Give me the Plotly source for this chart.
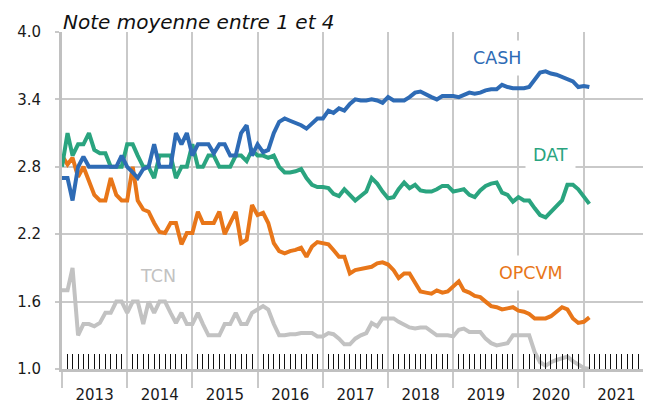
import plotly.graph_objects as go
import pandas as pd

# Monthly observations, Jan 2013 -> Feb 2021
dates = pd.date_range("2013-01-01", periods=98, freq="MS").strftime("%Y-%m-%d").tolist()

cash = [2.70, 2.70, 2.50, 2.80, 2.89, 2.80, 2.80, 2.80, 2.80, 2.80, 2.80, 2.90,
        2.80, 2.75, 2.70, 2.78, 2.80, 3.00, 2.80, 2.80, 2.80, 3.10, 3.00, 3.10,
        2.90, 3.00, 3.00, 3.00, 2.92, 3.00, 3.00, 2.90, 2.90, 3.10, 3.17, 2.90,
        3.00, 2.93, 2.95, 3.10, 3.20, 3.23, 3.21, 3.19, 3.17, 3.14, 3.18, 3.23,
        3.23, 3.30, 3.28, 3.32, 3.30, 3.36, 3.40, 3.39, 3.39, 3.40, 3.39, 3.37,
        3.42, 3.39, 3.39, 3.39, 3.42, 3.46, 3.47, 3.44, 3.42, 3.40, 3.43, 3.43,
        3.43, 3.42, 3.44, 3.46, 3.45, 3.46, 3.48, 3.49, 3.49, 3.53, 3.51, 3.50,
        3.50, 3.50, 3.51, 3.58, 3.64, 3.65, 3.63, 3.62, 3.60, 3.58, 3.56, 3.51,
        3.52, 3.51]

dat = [2.80, 3.10, 2.90, 3.00, 3.00, 3.10, 2.95, 2.92, 2.92, 2.80, 2.80, 2.80,
       3.00, 3.00, 2.90, 2.80, 2.80, 2.70, 2.90, 2.90, 2.90, 2.70, 2.80, 2.80,
       3.00, 2.80, 2.80, 2.90, 2.90, 2.80, 2.80, 2.80, 2.90, 2.90, 2.85, 2.95,
       2.90, 2.90, 2.88, 2.90, 2.80, 2.75, 2.75, 2.76, 2.78, 2.70, 2.64, 2.62,
       2.62, 2.61, 2.56, 2.54, 2.60, 2.55, 2.50, 2.54, 2.58, 2.70, 2.65, 2.58,
       2.52, 2.53, 2.60, 2.66, 2.61, 2.64, 2.59, 2.58, 2.58, 2.60, 2.63, 2.63,
       2.58, 2.59, 2.60, 2.55, 2.53, 2.59, 2.63, 2.65, 2.66, 2.57, 2.55, 2.49,
       2.53, 2.50, 2.50, 2.43, 2.37, 2.35, 2.40, 2.45, 2.50, 2.64, 2.64, 2.60,
       2.53, 2.47]

opcvm = [2.90, 2.82, 2.88, 2.71, 2.80, 2.68, 2.55, 2.50, 2.50, 2.70, 2.55, 2.50,
         2.50, 2.80, 2.50, 2.42, 2.40, 2.30, 2.22, 2.21, 2.30, 2.30, 2.11, 2.21,
         2.21, 2.40, 2.30, 2.30, 2.30, 2.40, 2.20, 2.30, 2.40, 2.12, 2.15, 2.46,
         2.37, 2.39, 2.30, 2.12, 2.05, 2.03, 2.05, 2.06, 2.08, 2.00, 2.09, 2.13,
         2.12, 2.11, 2.06, 2.00, 2.00, 1.85, 1.88, 1.89, 1.90, 1.91, 1.94, 1.95,
         1.93, 1.88, 1.81, 1.85, 1.85, 1.76, 1.69, 1.68, 1.67, 1.70, 1.68, 1.69,
         1.73, 1.78, 1.70, 1.68, 1.65, 1.64, 1.60, 1.56, 1.55, 1.53, 1.54, 1.55,
         1.52, 1.51, 1.49, 1.45, 1.45, 1.45, 1.47, 1.51, 1.55, 1.53, 1.45, 1.41,
         1.42, 1.46]

tcn = [1.70, 1.70, 1.90, 1.30, 1.40, 1.40, 1.38, 1.41, 1.50, 1.50, 1.60, 1.60,
       1.50, 1.60, 1.60, 1.40, 1.60, 1.50, 1.60, 1.60, 1.50, 1.41, 1.50, 1.40,
       1.40, 1.50, 1.40, 1.30, 1.30, 1.30, 1.40, 1.40, 1.50, 1.40, 1.40, 1.50,
       1.53, 1.56, 1.53, 1.40, 1.30, 1.30, 1.31, 1.31, 1.32, 1.32, 1.32, 1.29,
       1.29, 1.32, 1.31, 1.27, 1.22, 1.22, 1.27, 1.30, 1.32, 1.41, 1.38, 1.45,
       1.45, 1.45, 1.42, 1.39, 1.37, 1.36, 1.37, 1.37, 1.33, 1.30, 1.30, 1.30,
       1.29, 1.35, 1.36, 1.33, 1.33, 1.33, 1.27, 1.23, 1.21, 1.22, 1.23, 1.30,
       1.30, 1.30, 1.30, 1.15, 1.06, 1.03, 1.06, 1.08, 1.10, 1.11, 1.07, 1.04,
       1.01, 1.00]

series_names = ["TCN", "OPCVM", "DAT", "CASH"]
series_values = [tcn, opcvm, dat, cash]
colors = {"CASH": "#2E6BB5", "DAT": "#2AA47F", "OPCVM": "#E87619", "TCN": "#C2C2C2"}

label_pos = {"CASH": ("2019-09-01", 3.77), "DAT": ("2020-07-01", 2.905),
             "OPCVM": ("2020-03-13", 1.855), "TCN": ("2014-06-21", 1.83)}

y_ticks = [1.0, 1.6, 2.2, 2.8, 3.4, 4.0]

# monthly minor ticks (year boundaries carry the major gridlines instead)
month_ticks = [d.strftime("%Y-%m-%d")
               for d in pd.date_range("2013-01-01", "2021-12-01", freq="MS") if d.month != 1]

FONT = "DejaVu Sans"
GRID = "#C9C9C9"
AXIS = "#C0C0C0"

fig = go.Figure()
for name, vals in zip(series_names, series_values):
    fig.add_trace(go.Scatter(x=dates, y=vals, mode="lines", name=name,
                             line=dict(color=colors[name], width=4),
                             showlegend=False))

for name, (lx, ly) in label_pos.items():
    fig.add_annotation(x=lx, y=ly, xref="x", yref="y", text=name, showarrow=False,
                       font=dict(family=FONT, size=17.5, color=colors[name]),
                       bgcolor="white", borderpad=7)

fig.add_annotation(x=0, y=1, xref="paper", yref="paper", xanchor="left", yanchor="bottom",
                   text="Note moyenne entre 1 et 4", showarrow=False, yshift=-3,
                   font=dict(family=FONT, size=20, color="#111111", style="italic"),
                   borderpad=0)

# the page body adds an 8px offset; figure size/margins compensate for it
fig.update_layout(
    width=643, height=395,
    margin=dict(l=54, r=2, t=24, b=34, autoexpand=False),
    paper_bgcolor="white", plot_bgcolor="white",
    font=dict(family=FONT, size=15, color="#1A1A1A"),
)

fig.update_xaxes(
    type="date", range=["2013-01-01", "2022-01-01"], automargin=False,
    tick0="2013-01-01", dtick="M12", tickformat="%Y", ticklabelmode="period",
    showgrid=True, gridcolor=GRID, gridwidth=1.5,
    ticks="outside", ticklen=16, tickcolor=GRID, tickwidth=1.5,
    ticklabelstandoff=-6,
    showline=True, linecolor=AXIS, linewidth=3,
    tickfont=dict(family=FONT, size=15, color="#1A1A1A"),
    minor=dict(tickmode="array", tickvals=month_ticks, ticks="inside", ticklen=15,
               tickcolor="#111111", tickwidth=1, showgrid=False),
    zeroline=False,
)

fig.update_yaxes(
    range=[1.0, 4.0], tickvals=y_ticks, ticktext=[f"{v:.1f}" for v in y_ticks],
    automargin=False,
    showgrid=True, gridcolor=GRID, gridwidth=1.5,
    ticks="outside", ticklen=4, tickcolor=GRID, tickwidth=1.5,
    ticklabelstandoff=11,
    showline=True, linecolor=AXIS, linewidth=3,
    tickfont=dict(family=FONT, size=15, color="#1A1A1A"),
    zeroline=False,
)

fig.write_html("out.html")
